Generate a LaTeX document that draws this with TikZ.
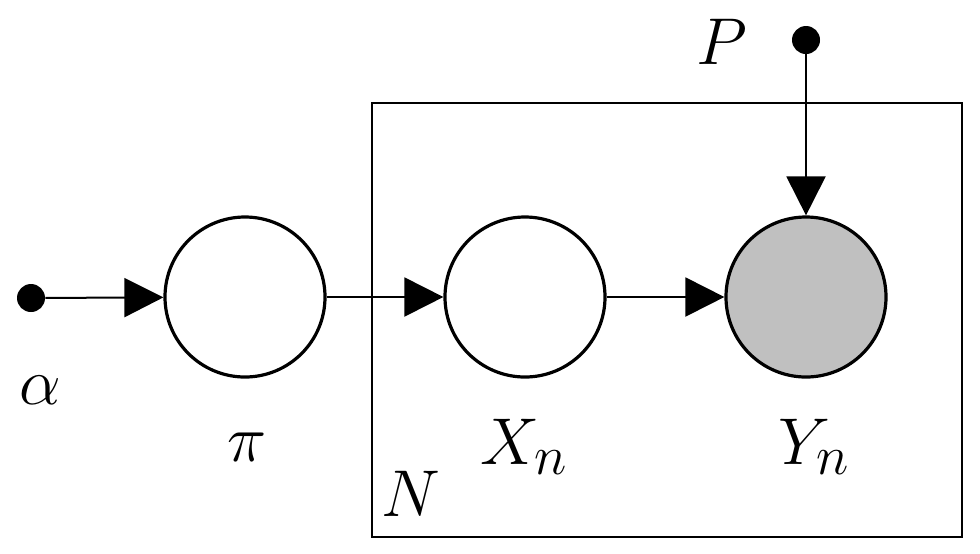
\documentclass[tikz,border=0pt]{standalone}
\usepackage{graphicx}
\usetikzlibrary{arrows.meta}
\definecolor{obsgrey}{HTML}{C0C0C0}
\newcommand{\biglabel}[1]{\scalebox{1.33}{\fontsize{24.88}{30}\selectfont$#1$}}
\begin{document}
\begin{tikzpicture}[x=0.5pt,y=-0.5pt,
  latent/.style={circle,draw,line width=1.6pt,minimum size=80pt,inner sep=0pt,fill=white},
  observed/.style={latent,fill=obsgrey},
  hyper/.style={circle,fill=black,minimum size=14pt,inner sep=0pt},
  edge/.style={line width=1pt,-{Triangle[length=19.5pt,width=19.5pt]}},
  lbl/.style={inner sep=0pt}]
\useasboundingbox (0,0) rectangle (980,553);
\node[draw,line width=1pt,minimum width=295pt,minimum height=217pt,inner sep=0pt] (plate) at (667,320) {};
\node[hyper] (alpha) at (31,298) {};
\node[latent] (pi) at (245,297) {};
\node[latent] (x) at (525,297) {};
\node[observed] (y) at (806,297) {};
\node[hyper] (p) at (806,40) {};
\draw[edge] (alpha) -- (pi);
\draw[edge] (pi) -- (x);
\draw[edge] (x) -- (y);
\draw[edge] (p) -- (y);
\node[lbl] (la) at (40,390) {\biglabel{\alpha}};
\node[lbl] (lpi) at (247,447) {\biglabel{\pi}};
\node[lbl] (lx) at (524,447) {\biglabel{X_n}};
\node[lbl] (ly) at (814,447) {\biglabel{Y_n}};
\node[lbl] (ln) at (411,494) {\biglabel{N}};
\node[lbl] (lp) at (722,42) {\biglabel{P}};
\end{tikzpicture}
\end{document}
